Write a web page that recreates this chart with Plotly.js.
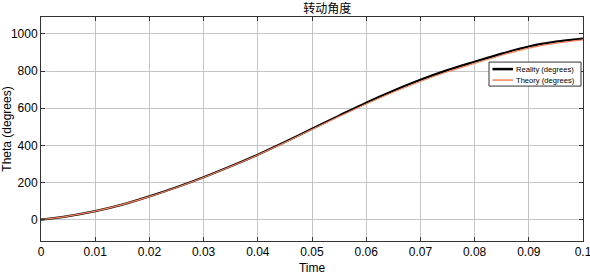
<!DOCTYPE html>
<html>
<head>
<meta charset="utf-8">
<script src="https://cdn.plot.ly/plotly-3.0.1.min.js"></script>
<style>html,body{margin:0;padding:0;background:#fff;}</style>
</head>
<body>
<div id="chart" style="width:590px;height:275px;"></div>
<script>
const time = [0, 0.005, 0.01, 0.015, 0.02, 0.025, 0.03, 0.035, 0.04, 0.045, 0.05,
              0.055, 0.06, 0.065, 0.07, 0.075, 0.08, 0.085, 0.09, 0.095, 0.1];
const reality = [0, 19, 46, 81, 125, 174, 228, 287, 350, 418, 489,
                 560, 630, 694, 753, 805, 850, 894, 932, 958, 975];
const theory = [0, 19, 46, 81, 124, 173, 227, 286, 348, 415, 485,
                555, 623, 686, 744, 796, 841, 885, 923, 950, 968];
const seriesNames = ['Reality (degrees)', 'Theory (degrees)'];
const seriesColors = ['#000000', '#f5845c'];
const xTicks = [0, 0.01, 0.02, 0.03, 0.04, 0.05, 0.06, 0.07, 0.08, 0.09, 0.1];
const xTickText = ['0', '0.01', '0.02', '0.03', '0.04', '0.05', '0.06', '0.07', '0.08', '0.09', '0.1'];
const yTicks = [0, 200, 400, 600, 800, 1000];

const font = 'Arial, "Liberation Sans", sans-serif';
const widths = [2.2, 1.2];
const traces = [
  {x: time, y: reality, type: 'scatter', mode: 'lines', name: seriesNames[0],
   line: {color: seriesColors[0], width: widths[0], shape: 'spline', smoothing: 0.8}},
  {x: time, y: theory, type: 'scatter', mode: 'lines', name: seriesNames[1],
   line: {color: seriesColors[1], width: widths[1], shape: 'spline', smoothing: 0.8}}
];

// custom compact legend (MATLAB style)
const legY = [0.7675, 0.7184];
const shapes = [
  {type: 'rect', xref: 'paper', yref: 'paper', x0: 0.8266, x1: 0.9963, y0: 0.6916, y1: 0.7988,
   fillcolor: '#ffffff', line: {color: '#333', width: 1}, layer: 'above'}
];
const annotations = [];
seriesNames.forEach((nm, i) => {
  shapes.push({type: 'line', xref: 'paper', yref: 'paper', x0: 0.833, x1: 0.871, y0: legY[i], y1: legY[i],
               line: {color: seriesColors[i], width: widths[i] + 0.3}, layer: 'above'});
  annotations.push({xref: 'paper', yref: 'paper', x: 0.874, y: legY[i], xanchor: 'left', yanchor: 'middle',
                    text: nm, showarrow: false, borderpad: 0,
                    font: {size: 7.6, family: font, color: '#000'}});
});

const layout = {
  width: 590, height: 275,
  margin: {l: 41, r: 7, t: 17, b: 34},
  paper_bgcolor: '#ffffff', plot_bgcolor: '#ffffff',
  font: {family: font, size: 12, color: '#000'},
  title: {text: '转动角度', font: {family: '"Noto Sans CJK SC", sans-serif', size: 12, color: '#000'},
          x: 0.528, xanchor: 'center', xref: 'paper', y: 0.985, yanchor: 'top'},
  xaxis: {range: [0, 0.100001], tickvals: xTicks, ticktext: xTickText,
          showgrid: true, gridcolor: '#c4c4c4', gridwidth: 1,
          showline: true, linecolor: '#333', linewidth: 1, mirror: 'allticks',
          ticks: 'inside', ticklen: 4, tickcolor: '#333', zeroline: false,
          ticklabeloverflow: 'allow',
          tickfont: {size: 12, family: font},
          title: {text: 'Time', font: {size: 12, family: font}, standoff: 6}},
  yaxis: {range: [-115, 1091], tickvals: yTicks,
          showgrid: true, gridcolor: '#c4c4c4', gridwidth: 1,
          showline: true, linecolor: '#333', linewidth: 1, mirror: 'allticks',
          ticks: 'inside', ticklen: 4, tickcolor: '#333', zeroline: false,
          tickfont: {size: 12, family: font},
          title: {text: 'Theta (degrees)', font: {size: 12, family: font}, standoff: 3}},
  shapes: shapes,
  annotations: annotations,
  showlegend: false
};
Plotly.newPlot('chart', traces, layout, {displayModeBar: false, staticPlot: true});
</script>
</body>
</html>
